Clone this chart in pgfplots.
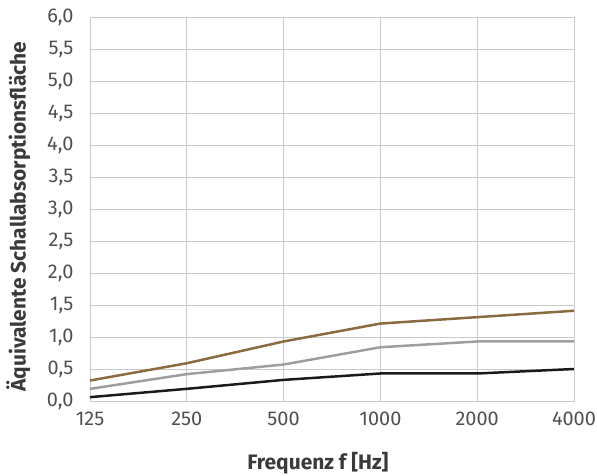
\documentclass[border=0pt]{standalone}
\usepackage{pgfplots}
\pgfplotsset{compat=1.18}
\usepackage{fontspec}
\setmainfont{Fira Sans}
\definecolor{brownline}{HTML}{8C6A3F}
\definecolor{grayline}{HTML}{9E9E9E}
\definecolor{blackline}{HTML}{1A1A1A}
\definecolor{gridc}{HTML}{CACACA}
\definecolor{txt}{HTML}{3A3A3A}
\definecolor{tick}{HTML}{505050}
\begin{document}
\begin{tikzpicture}
\useasboundingbox (-90bp,-75bp) rectangle (507bp,401bp);
\begin{axis}[
  at={(0,0)}, anchor=south west,
  scale only axis,
  width=484bp, height=384bp,
  xmin=0, xmax=5, ymin=0, ymax=6,
  xtick={0,1,2,3,4,5},
  xticklabels={125,250,500,1000,2000,4000},
  ytick={0,0.5,...,6},
  y tick label style={/pgf/number format/fixed, /pgf/number format/fixed zerofill, /pgf/number format/precision=1, /pgf/number format/use comma},
  /pgf/number format/assume math mode=true,
  tick label style={font=\fontsize{20}{22}\selectfont, text=tick},
  grid=major,
  major grid style={gridc, line width=1pt},
  axis line style={gridc, line width=1pt},
  tick style={draw=none},
  x tick label style={yshift=-7bp},
  y tick label style={xshift=-13bp},
  xlabel={Frequenz f [Hz]},
  ylabel={Äquivalente Schallabsorptionsfläche},
  xlabel style={font=\bfseries\fontsize{21}{24}\selectfont, text=txt, at={(axis description cs:0.471,-0.161)}, anchor=center},
  ylabel style={font=\bfseries\fontsize{21}{24}\selectfont, text=txt, at={(axis description cs:-0.148,0.48)}, anchor=center},
]
\addplot[brownline, line width=2.5pt] coordinates {(0,0.32) (1,0.59) (2,0.93) (3,1.21) (4,1.31) (5,1.41)};
\addplot[grayline, line width=2.5pt] coordinates {(0,0.19) (1,0.42) (2,0.57) (3,0.84) (4,0.93) (5,0.93)};
\addplot[blackline, line width=2.5pt] coordinates {(0,0.06) (1,0.19) (2,0.33) (3,0.43) (4,0.43) (5,0.50)};
\end{axis}
\end{tikzpicture}
\end{document}
